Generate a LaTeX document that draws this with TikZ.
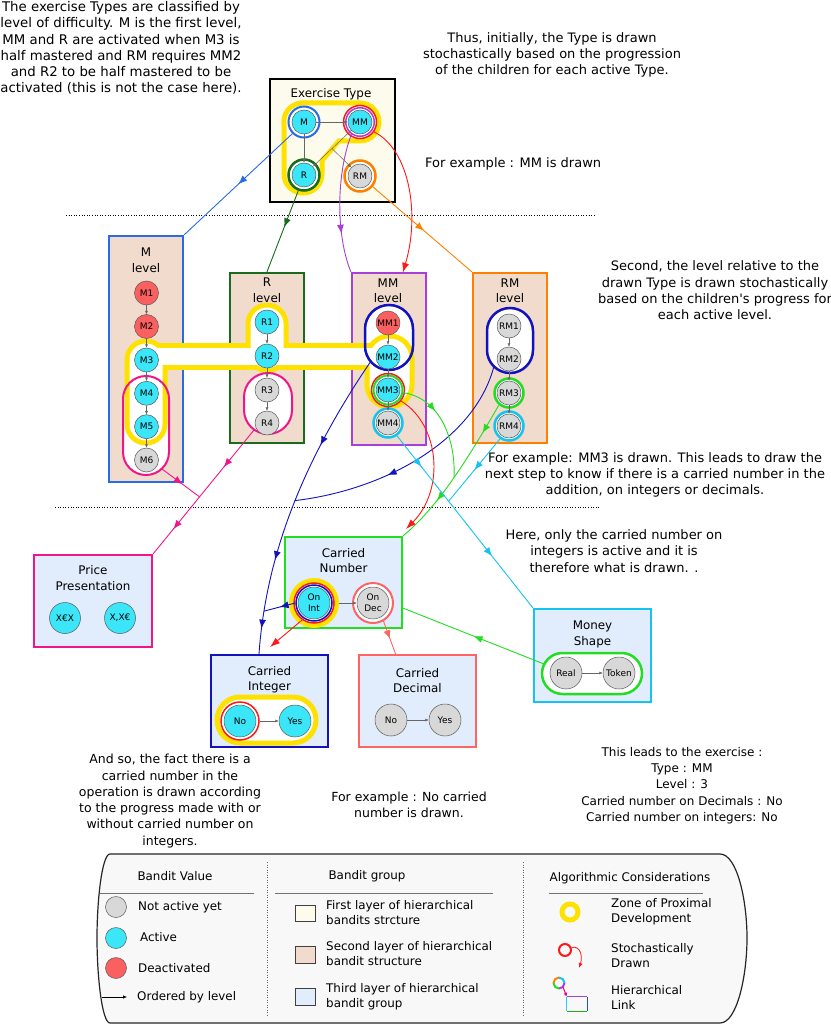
\documentclass[tikz,border=0pt]{standalone}
\usepackage{fontspec}
\setmainfont{DejaVu Sans}
\usetikzlibrary{arrows.meta,decorations.markings,calc}
\definecolor{cyanN}{RGB}{58,230,248}
\definecolor{grayN}{RGB}{216,216,216}
\definecolor{redN}{RGB}{250,96,96}
\definecolor{bgCream}{RGB}{253,251,235}
\definecolor{bgTan}{RGB}{240,219,205}
\definecolor{bgBlue}{RGB}{225,236,252}
\definecolor{legBg}{RGB}{248,248,248}
\definecolor{zpd}{RGB}{255,225,0}
\definecolor{cM}{RGB}{42,106,228}
\definecolor{cR}{RGB}{24,108,28}
\definecolor{cMM}{RGB}{166,64,216}
\definecolor{cRed}{RGB}{255,24,24}
\definecolor{cRM}{RGB}{255,128,0}
\definecolor{cPink}{RGB}{240,22,138}
\definecolor{cDB}{RGB}{18,18,190}
\definecolor{cG}{RGB}{34,221,34}
\definecolor{cLB}{RGB}{20,196,240}
\definecolor{cLR}{RGB}{255,100,100}
\newcommand\mytip{\arrow{Latex[length=9pt,width=7pt]}}
\tikzset{
 bn/.style={circle, draw=black!65, line width=0.5pt, minimum size=24pt, inner sep=0pt, font=\fontsize{9}{9}\selectfont},
 bb/.style={bn, minimum size=32pt, align=center, font=\fontsize{9}{11}\selectfont},
 act/.style={fill=cyanN}, ina/.style={fill=grayN}, dea/.style={fill=redN},
 rg/.style={circle, inner sep=0pt, fill=white},
 grpbox/.style={rectangle, draw, line width=2.3pt, inner sep=0pt},
 ttl/.style={align=center, font=\fontsize{11.9}{15.5}\selectfont, inner sep=0pt},
 txt/.style={align=center, font=\fontsize{12.5}{16.3}\selectfont, inner sep=0pt},
 txtb/.style={align=center, font=\fontsize{13}{16.3}\selectfont, inner sep=0pt},
 lgt/.style={align=left, anchor=west, font=\fontsize{11.9}{15}\selectfont, inner sep=0pt},
 ord/.style={draw=black!60, line width=0.5pt, -{Latex[length=3.5pt,width=3pt]}},
 conn/.style={line width=0.9pt},
 ma/.style={postaction={decorate},decoration={markings,mark=at position #1 with {\mytip}}},
 mab/.style 2 args={postaction={decorate},decoration={markings,mark=at position #1 with {\mytip},mark=at position #2 with {\mytip}}},
 mac/.style n args={3}{postaction={decorate},decoration={markings,mark=at position #1 with {\mytip},mark=at position #2 with {\mytip},mark=at position #3 with {\mytip}}},
 endtip/.style={-{Latex[length=10pt,width=7pt]}},
 dotl/.style={line width=0.9pt, dash pattern=on 1pt off 1.6pt},
}
\begin{document}
\begin{tikzpicture}[x=1pt,y=-1pt]
\fill[white] (0,0) rectangle (830,1027);
\useasboundingbox (0,0) rectangle (830,1027);

% separators
\draw[dotl] (66,215) -- (595,215);
\draw[dotl] (55,507) -- (600,507);

% group boxes
\node[grpbox, draw=black, line width=2.6pt, fill=bgCream, minimum width=125pt, minimum height=123pt] (ET) at (332.5,140.5) {};
\node[grpbox, draw=cM, fill=bgTan, minimum width=74pt, minimum height=246pt] (Mbox) at (146,359) {};
\node[grpbox, draw=cR, fill=bgTan, minimum width=74pt, minimum height=170pt] (Rbox) at (267,358) {};
\node[grpbox, draw=cMM, fill=bgTan, minimum width=74pt, minimum height=172pt] (MMbox) at (389,359) {};
\node[grpbox, draw=cRM, fill=bgTan, minimum width=74pt, minimum height=170pt] (RMbox) at (510,358) {};
\node[grpbox, draw=cPink, fill=bgBlue, minimum width=118pt, minimum height=92pt] (PP) at (93,601) {};
\node[grpbox, draw=cG, fill=bgBlue, minimum width=117pt, minimum height=91pt] (CN) at (343.5,582.5) {};
\node[grpbox, draw=cDB, fill=bgBlue, minimum width=117pt, minimum height=92pt] (CI) at (269.5,701) {};
\node[grpbox, draw=cLR, fill=bgBlue, minimum width=117pt, minimum height=92pt] (CD) at (417.5,701) {};
\node[grpbox, draw=cLB, fill=bgBlue, minimum width=117pt, minimum height=93pt] (MS) at (592.5,655.5) {};

% zone fills
\fill[white, rounded corners=23pt] (123,376) rectangle (169,475);
\fill[white, rounded corners=24pt] (244,373) rectangle (292,434);
\fill[white, rounded corners=24pt] (365,305) rectangle (413,370);
\fill[white, rounded corners=23pt] (487,308) rectangle (533,373);
\fill[white, rounded corners=20.5pt] (542,653) rectangle (642,694);

% zone of proximal development, level layer
\begin{scope}[zpd, line width=10pt]
\draw[rounded corners=16.5pt] (129.5,343.5) rectangle (162.5,440.5);
\draw (146,347.5) rectangle (388,364.5);
\draw[rounded corners=16.5pt] (250.5,307.5) rectangle (283.5,368);
\draw[rounded corners=20pt] (369.5,338.5) rectangle (409.5,404.5);
\end{scope}
\begin{scope}[white]
\fill[rounded corners=16.5pt] (129.5,343.5) rectangle (162.5,440.5);
\fill (146,347.5) rectangle (388,364.5);
\fill[rounded corners=16.5pt] (250.5,307.5) rectangle (283.5,368);
\fill[rounded corners=20pt] (369.5,338.5) rectangle (409.5,404.5);
\end{scope}
% zone of proximal development, exercise type
\begin{scope}[zpd, line width=10pt]
\draw[rounded corners=16.5pt] (286.5,105.5) rectangle (376.5,138.5);
\draw[rounded corners=16.5pt] (286.5,105.5) rectangle (319.5,190.5);
\draw (313,130) -- (345,130) -- (313,167) -- cycle;
\end{scope}
\begin{scope}[bgCream]
\fill[rounded corners=16.5pt] (286.5,105.5) rectangle (376.5,138.5);
\fill[rounded corners=16.5pt] (286.5,105.5) rectangle (319.5,190.5);
\fill (313,130) -- (345,130) -- (313,167) -- cycle;
\end{scope}

% zone strokes
\draw[cPink, line width=2pt, rounded corners=23pt] (123,376) rectangle (169,475);
\draw[cPink, line width=2pt, rounded corners=24pt] (244,373) rectangle (292,434);
\draw[cDB, line width=2.5pt, rounded corners=24pt] (365,305) rectangle (413,370);
\draw[cDB, line width=2.5pt, rounded corners=23pt] (487,308) rectangle (533,373);
\draw[cG, line width=2.5pt, fill=white, rounded corners=20.5pt] (542,653) rectangle (642,694);
\draw[zpd, line width=5pt, fill=white, rounded corners=23pt] (217,697) rectangle (316,743);

% titles
\node[ttl] (tET) at (331,94) {Exercise Type};
\node[ttl] (tM) at (146,260) {M\\level};
\node[ttl] (tR) at (267,290) {R\\level};
\node[ttl] (tMM) at (388,290.5) {MM\\level};
\node[ttl] (tRM) at (510,290.5) {RM\\level};
\node[ttl] (tPP) at (93,578) {Price\\Presentation};
\node[ttl] (tCN) at (343.5,560.5) {Carried\\Number};
\node[ttl] (tCI) at (269.5,679.5) {Carried\\Integer};
\node[ttl] (tCD) at (417.5,680.5) {Carried\\Decimal};
\node[ttl] (tMS) at (592.5,634.5) {Money\\Shape};

% exercise type nodes
\node[rg, draw=cM, line width=2pt, minimum size=31pt] (Mr) at (304,122) {};
\node[rg, draw=cRed, line width=1.5pt, minimum size=33pt] (MMr2) at (360,122) {};
\node[rg, draw=cMM, line width=1.5pt, minimum size=28.5pt] (MMr1) at (360,122) {};
\node[rg, draw=cR, line width=2.5pt, minimum size=31pt] (Rr) at (304,175) {};
\node[rg, draw=cRM, line width=2.5pt, minimum size=31pt] (RMr) at (360,176) {};
\node[bn,act] (M) at (304,122) {M};
\node[bn,act] (MM) at (360,122) {MM};
\node[bn,act] (R) at (304,175) {R};
\node[bn,ina] (RM) at (360,176) {RM};
\draw[ord] (M) -- (MM);
\draw[ord] (M) -- (R);
\draw[ord] (MM) -- coordinate[pos=0.5] (mmr) (R);
\draw[ord] (mmr) -- (RM);

% level rings
\node[rg, draw=cRed, line width=1.5pt, minimum size=33pt] (MM3r) at (388,390) {};
\node[rg, draw=cG, line width=2pt, minimum size=29pt] (MM3g) at (388,390) {};
\node[rg, draw=cLB, line width=2.5pt, minimum size=29pt] (MM4c) at (388,423) {};
\node[rg, draw=cG, line width=2.5pt, minimum size=29pt] (RM3g) at (509,393) {};
\node[rg, draw=cLB, line width=2.5pt, minimum size=29pt] (RM4c) at (509,426) {};

% level nodes
\node[bn,dea] (M1) at (146.5,293) {M1};
\node[bn,dea] (M2) at (146.5,326.5) {M2};
\node[bn,act] (M3) at (146.5,360) {M3};
\node[bn,act] (M4) at (146.5,393.3) {M4};
\node[bn,act] (M5) at (146.5,426.7) {M5};
\node[bn,ina] (M6) at (146.5,460) {M6};
\node[bn,act] (R1) at (267,322) {R1};
\node[bn,act] (R2) at (267,356) {R2};
\node[bn,ina] (R3) at (267,390) {R3};
\node[bn,ina] (R4) at (267,423) {R4};
\node[bn,dea] (MM1) at (388,323) {MM1};
\node[bn,act] (MM2) at (388,357) {MM2};
\node[bn,act] (MM3) at (388,390) {MM3};
\node[bn,ina] (MM4) at (388,423) {MM4};
\node[bn,ina] (RM1) at (509,326) {RM1};
\node[bn,ina] (RM2) at (509,359) {RM2};
\node[bn,ina] (RM3) at (509,393) {RM3};
\node[bn,ina] (RM4) at (509,426) {RM4};
\foreach \a/\b in {M1/M2,M2/M3,M3/M4,M4/M5,M5/M6,R1/R2,R2/R3,R3/R4,MM1/MM2,MM2/MM3,MM3/MM4,RM1/RM2,RM2/RM3,RM3/RM4}
  \draw[ord] (\a) -- (\b);

% bottom rings and nodes
\node[rg, draw=zpd, line width=5pt, minimum size=45pt] (OnIy) at (314,603) {};
\node[rg, draw=cRed, line width=1.5pt, minimum size=40pt] (OnIr) at (314,603) {};
\node[rg, draw=cDB, line width=1.5pt, minimum size=36pt] (OnIb) at (314,603) {};
\node[rg, draw=cLR, line width=2pt, minimum size=40pt] (OnDr) at (373,603) {};
\node[rg, draw=cRed, line width=1.5pt, minimum size=38pt] (CInor) at (240,721) {};
\node[bb,act] (OnInt) at (314,603) {On\\Int};
\node[bb,ina] (OnDec) at (373,603) {On\\Dec};
\node[bb,act, minimum size=31pt] (PX1) at (65,618) {X€X};
\node[bb,act, minimum size=31pt] (PX2) at (120,618) {X,X€};
\node[bb,act] (CIno) at (240,721) {No};
\node[bb,act] (CIyes) at (295,721) {Yes};
\node[bb,ina] (CDno) at (391,720) {No};
\node[bb,ina] (CDyes) at (445,720) {Yes};
\node[bb,ina] (Real) at (566,673) {Real};
\node[bb,ina] (Token) at (619,673) {Token};
\draw[ord] (OnIy) -- (OnDec);
\draw[ord] (CInor) -- (CIyes);
\draw[ord] (CDno) -- (CDyes);
\draw[ord] (Real) -- (Token);

% connector end coordinates
\coordinate (mmIn) at ($(MMbox.north)+(14,0)$);
\coordinate (pMo) at (162,469);
\coordinate (pRo) at (254,430);
\coordinate (bMMo) at (371,361);
\coordinate (bRMo) at (494,366);
\coordinate (gMSo) at (544,664);
\coordinate (ciIn) at ($(CI.north)+(-10.5,0)$);
\coordinate (cnIn) at ($(CN.south east)+(0,-21)$);
\coordinate (cdIn) at ($(CD.north)+(-22,0)$);
\coordinate (redEnd) at (406,529);
\coordinate (redEnd2) at (270,647);

% top layer -> level layer
\draw[conn, cM, ma=0.5] (Mr.225) -- (Mbox.north east);
\draw[conn, cR, ma=0.45] (Rr.250) -- (Rbox.north);
\draw[conn, cMM, ma=0.72] (MMr1.235) .. controls (336,175) and (336,235) .. (MMbox.north west);
\draw[conn, cRed, endtip, shorten >=-1pt] (MMr2.-35) .. controls (410,150) and (420,215) .. (mmIn);
\draw[conn, cRM, ma=0.52] (RMr.-40) -- (RMbox.north west);

% level layer -> third layer
\draw[conn, cPink, mab={0.3}{0.8}] (pRo) -- coordinate[pos=0.54] (pj) (PP.north east);
\draw[conn, cPink, ma=0.55] (pMo) -- (pj);
\draw[conn, cDB, mac={0.31}{0.70}{0.92}] (bMMo) .. controls (303,461) and (266,555) .. coordinate[pos=0.475] (jb) coordinate[pos=0.855] (jc) (ciIn);
\draw[conn, cDB, ma=0.62] (bRMo) .. controls (475,440) and (385,490) .. (jb);
\draw[conn, cDB, ma=0.5] (OnIb.west) -- (jc);
\draw[conn, cG, mab={0.2}{0.7}] (RM3g.-130) .. controls (470,455) and (440,505) .. coordinate[pos=0.5] (jg) (CN.north east);
\draw[conn, cG, ma=0.35] (MM3g.-10) .. controls (440,398) and (456,440) .. (jg);
\draw[conn, cRed, endtip] (MM3r.-40) .. controls (440,425) and (445,490) .. (redEnd);
\draw[conn, cRed, endtip] (OnIr.-125) -- (redEnd2);
\draw[conn, cLB, mab={0.18}{0.7}] (MM4c.-55) -- coordinate[pos=0.38] (jl) (MS.north west);
\draw[conn, cLB, ma=0.5] (RM4c.-125) -- (jl);
\draw[conn, cG, ma=0.5] (gMSo) -- (cnIn);
\draw[conn, cLR, ma=0.55] (OnDr.-60) -- (cdIn);

% annotations
\node[txtb, font=\fontsize{13.3}{16.3}\selectfont] (t1) at (121,48) {The exercise Types are classified by\\level of difficulty. M is the first level,\\MM and R are activated when M3 is\\half mastered and RM requires MM2\\and R2 to be half mastered to be\\activated (this is not the case here).};
\node[txtb] (t2) at (552,55) {Thus, initially, the Type is drawn\\stochastically based on the progression\\of the children for each active Type.};
\node[txtb, anchor=west] (t3) at (425,164) {For example : MM is drawn};
\node[txtb] (t4) at (715,290.5) {Second, the level relative to the\\drawn Type is drawn stochastically\\based on the children\textquotesingle s progress for\\each active level.};
\node[txtb] (t5) at (655,475) {For example: MM3 is drawn. This leads to draw the\\next step to know if there is a carried number in the\\addition, on integers or decimals.};
\node[txtb] (t6) at (614,551) {Here, only the carried number on\\integers is active and it is\\therefore what is drawn. .};
\node[txt, font=\fontsize{12}{16.3}\selectfont] (t7) at (682,785.5) {This leads to the exercise :\\Type : MM\\Level : 3\\Carried number on Decimals : No\\Carried number on integers: No};
\node[txt] (t8) at (170,801) {And so, the fact there is a\\carried number in the\\operation is drawn according\\to the progress made with or\\without carried number on\\integers.};
\node[txt] (t9) at (409,804.5) {For example : No carried\\number is drawn.};

% legend
\draw[fill=legBg, draw=black!85, line width=1.2pt] (110,854) -- (720,854) .. controls (737,854) and (747,900) .. (747,938) .. controls (747,976) and (737,1023) .. (720,1023) -- (110,1023) .. controls (102,1023) and (97,976) .. (97,938) .. controls (97,900) and (102,854) .. (110,854) -- cycle;
\draw[black!60, line width=0.7pt, dash pattern=on 1pt off 1.5pt] (267,862) -- (267,1016);
\draw[black!60, line width=0.7pt, dash pattern=on 1pt off 1.5pt] (523,862) -- (523,1016);
\node[ttl] (lh1) at (175,876) {Bandit Value};
\node[ttl] (lh2) at (367,876) {Bandit group};
\node[ttl] (lh3) at (630,878) {Algorithmic Considerations};
\draw[black!55, line width=0.6pt] (100,893) -- (254,893);
\draw[black!55, line width=0.6pt] (275,893) -- (493,893);
\draw[black!55, line width=0.6pt] (549,893) -- (703,893);
\node[bn,ina,minimum size=21pt] (lg1) at (116,907) {};
\node[lgt] (lt1) at (138,907) {Not active yet};
\node[bn,act,minimum size=21pt] (lg2) at (116,938) {};
\node[lgt] (lt2) at (140,937) {Active};
\node[bn,dea,minimum size=21pt] (lg3) at (116,968) {};
\node[lgt] (lt3) at (138,968) {Deactivated};
\coordinate (la0) at (102,997);
\coordinate (la1) at (127,997);
\draw[black, line width=0.6pt, -{Latex[length=4pt,width=3.5pt]}] (la0) -- (la1);
\node[lgt] (lt4) at (137,997) {Ordered by level};
\node[draw=black!75, line width=0.8pt, fill=bgCream, minimum width=20pt, minimum height=16pt, inner sep=0pt] (sq1) at (305,913) {};
\node[lgt] (lt5) at (326,912.5) {First layer of hierarchical\\bandits strcture};
\node[draw=black!75, line width=0.8pt, fill=bgTan, minimum width=20pt, minimum height=17pt, inner sep=0pt] (sq2) at (305,954.5) {};
\node[lgt] (lt6) at (326,953.5) {Second layer of hierarchical\\bandit structure};
\node[draw=black!75, line width=0.8pt, fill=bgBlue, minimum width=20pt, minimum height=17pt, inner sep=0pt] (sq3) at (305,996.5) {};
\node[lgt] (lt7) at (326,996.5) {Third layer of hierarchical\\bandit group};
\node[circle, draw=zpd, line width=5pt, minimum size=16pt, inner sep=0pt] (ly) at (570,912) {};
\node[lgt] (lt8) at (611,911.5) {Zone of Proximal\\Development};
\node[circle, draw=cRed, line width=2pt, minimum size=12pt, inner sep=0pt] (lr) at (565,950) {};
\coordinate (lrEnd) at (579,968);
\draw[cRed, line width=0.8pt, -{Latex[length=5pt,width=4pt]}] (lr.20) .. controls (580,945) and (583,956) .. (lrEnd);
\node[lgt] (lt9) at (611,955.5) {Stochastically\\Drawn};
\draw[line width=2pt, cMM] (559,983) ++(5.5,0) arc (0:90:5.5);
\draw[line width=2pt, cG] (559,983) ++(0,5.5) arc (90:180:5.5);
\draw[line width=2pt, cRM] (559,983) ++(-5.5,0) arc (180:270:5.5);
\draw[line width=2pt, cLB] (559,983) ++(0,-5.5) arc (270:360:5.5);
\coordinate (lhc) at (563,987);
\node[minimum width=20pt, minimum height=14pt, inner sep=0pt] (lhr) at (577,1004) {};
\draw[line width=1.3pt, cMM] (lhr.north west) -- (lhr.north east);
\draw[line width=1.3pt, cDB!60!cLB] (lhr.north east) -- (lhr.south east);
\draw[line width=1.3pt, cG!80!black] (lhr.south east) -- (lhr.south west);
\draw[line width=1.3pt, cLB!60!cyanN] (lhr.south west) -- (lhr.north west);
\draw[line width=1pt, magenta, -{Latex[length=4pt,width=3.5pt]}] (lhc) -- (lhr.north west);
\node[lgt] (lt10) at (611,997.5) {Hierarchical\\Link};
\end{tikzpicture}
\end{document}
